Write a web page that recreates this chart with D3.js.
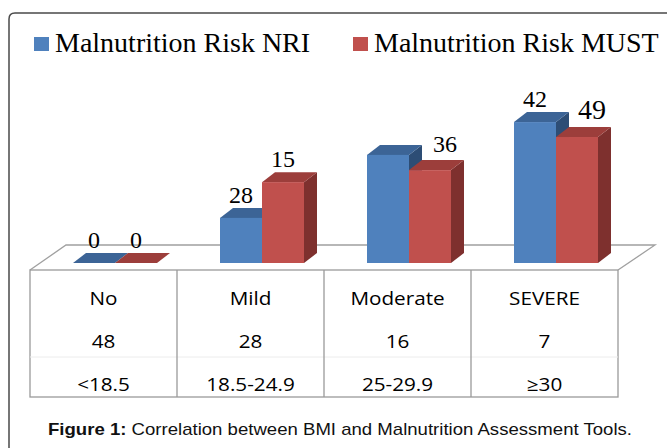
<!DOCTYPE html>
<html>
<head>
<meta charset="utf-8">
<script src="https://cdn.jsdelivr.net/npm/d3@7"></script>
<style>
  html, body { margin: 0; padding: 0; background: #fff; }
  svg { display: block; }
</style>
</head>
<body>
<div id="chart"></div>
<script>
// categories and table rows
const categories = ['No', 'Mild', 'Moderate', 'SEVERE'];
const patientCounts = ['48', '28', '16', '7'];
const bmiRanges = ['<18.5', '18.5-24.9', '25-29.9', '\u226530'];

// series (bar heights) and the labels printed above them
const seriesNames = ['Malnutrition Risk NRI', 'Malnutrition Risk MUST'];
const nriValues = [0, 15.4, 36.9, 48.1];
const mustValues = [0, 27.6, 31.7, 43];
const nriLabels = ['0', '28', '', '42'];
const mustLabels = ['0', '15', '36', '49'];

const width = 667, height = 448;
const serif = '"Liberation Serif", "Times New Roman", serif';
const colors = [
  { front: '#4f81bd', top: '#3c6496', side: '#2d4d75' },
  { front: '#c0504d', top: '#9c3e3b', side: '#7e302e' }
];

const svg = d3.select('#chart').append('svg')
  .attr('width', width)
  .attr('height', height);

svg.append('rect').attr('width', width).attr('height', height).attr('fill', '#fff');

// outer frame (cut off at the right and bottom)
svg.append('path')
  .attr('d', `M9,${height} V19 Q9,13 15,13 H${width + 5}`)
  .attr('fill', 'none')
  .attr('stroke', '#4a4a4a')
  .attr('stroke-width', 1.5);

// legend
const legendX = [34, 353];
const legend = svg.append('g');
seriesNames.forEach((name, i) => {
  legend.append('rect')
    .attr('x', legendX[i]).attr('y', 37)
    .attr('width', 15).attr('height', 14)
    .attr('fill', colors[i].front);
  legend.append('text')
    .attr('x', legendX[i] + 21).attr('y', 52)
    .attr('font-family', serif)
    .attr('font-size', 28)
    .attr('fill', '#000')
    .text(name);
});

// plot geometry
const tableLeft = 30, tableRight = 618, tableTop = 270, tableBottom = 397;
const floorBack = 245, depthX = 13, depthY = 10;
const baseY = 263;

const x = d3.scaleBand().domain(categories).range([tableLeft, tableRight]);
const x1 = d3.scaleBand().domain(seriesNames).range([0, 84]);
const y = d3.scaleLinear().domain([0, 50]).range([baseY, baseY - 146.5]);

// floor outline
svg.append('path')
  .attr('d', `M${tableLeft},${tableTop} L${tableLeft + 36},${floorBack} H${tableRight + 37} L${tableRight},${tableTop}`)
  .attr('fill', 'none')
  .attr('stroke', '#a0a0a0')
  .attr('stroke-width', 1.3);

// bars
const series = [nriValues, mustValues];
const labels = [nriLabels, mustLabels];
const barsG = svg.append('g');
const labelG = svg.append('g');

categories.forEach((cat, ci) => {
  const groupLeft = x(cat) + x.bandwidth() / 2 + 11.5 - 42;
  seriesNames.forEach((name, si) => {
    const x0 = groupLeft + x1(name);
    const w = x1.bandwidth();
    const yt = y(series[si][ci]);
    const c = colors[si];
    // side face
    barsG.append('path')
      .attr('d', `M${x0 + w},${baseY} L${x0 + w + depthX},${baseY - depthY} V${yt - depthY} L${x0 + w},${yt} Z`)
      .attr('fill', c.side);
    // top face
    barsG.append('path')
      .attr('d', `M${x0},${yt} L${x0 + depthX},${yt - depthY} H${x0 + w + depthX} L${x0 + w},${yt} Z`)
      .attr('fill', c.top);
    // front face
    barsG.append('rect')
      .attr('x', x0).attr('y', yt)
      .attr('width', w).attr('height', baseY - yt)
      .attr('fill', c.front);
    // value label, pushed right when the bar before it is taller
    const blocked = si > 0 && series[si - 1][ci] > series[si][ci];
    labelG.append('text')
      .attr('x', x0 + w / 2 + (blocked ? 15 : 0))
      .attr('y', yt - depthY - (blocked ? 8 : 5))
      .attr('text-anchor', 'middle')
      .style('font-family', serif)
      .attr('font-size', blocked && ci === categories.length - 1 ? 28 : 24)
      .attr('fill', '#000')
      .text(labels[si][ci]);
  });
});

// data table under the floor
const table = svg.append('g');
table.append('rect')
  .attr('x', tableLeft).attr('y', tableTop)
  .attr('width', tableRight - tableLeft).attr('height', tableBottom - tableTop)
  .attr('fill', 'none')
  .attr('stroke', '#9a9a9a')
  .attr('stroke-width', 1.3);
table.append('line')
  .attr('x1', tableLeft).attr('x2', tableRight)
  .attr('y1', 357).attr('y2', 357)
  .attr('stroke', '#ececec');
categories.slice(1).forEach(cat => {
  table.append('line')
    .attr('x1', x(cat)).attr('x2', x(cat))
    .attr('y1', tableTop).attr('y2', tableBottom)
    .attr('stroke', '#9a9a9a')
    .attr('stroke-width', 1.3);
});

const rows = [categories, patientCounts, bmiRanges];
const rowBaselines = [305, 348, 391];
rows.forEach((row, ri) => {
  row.forEach((txt, ci) => {
    const cx = x(categories[ci]) + x.bandwidth() / 2;
    table.append('text')
      .attr('transform', `translate(${cx},${rowBaselines[ri]}) scale(1.15,1)`)
      .attr('text-anchor', 'middle')
      .attr('font-family', '"Open Sans", sans-serif')
      .attr('font-size', 18)
      .attr('fill', '#000')
      .text(txt);
  });
});

// caption
const caption = svg.append('text')
  .attr('x', 48).attr('y', 435)
  .attr('font-family', '"Liberation Sans", Arial, sans-serif')
  .attr('font-size', 17)
  .attr('textLength', 584)
  .attr('lengthAdjust', 'spacingAndGlyphs')
  .attr('fill', '#111');
caption.append('tspan').attr('font-weight', 'bold').text('Figure 1:');
caption.append('tspan').text(' Correlation between BMI and Malnutrition Assessment Tools.');
</script>
</body>
</html>
